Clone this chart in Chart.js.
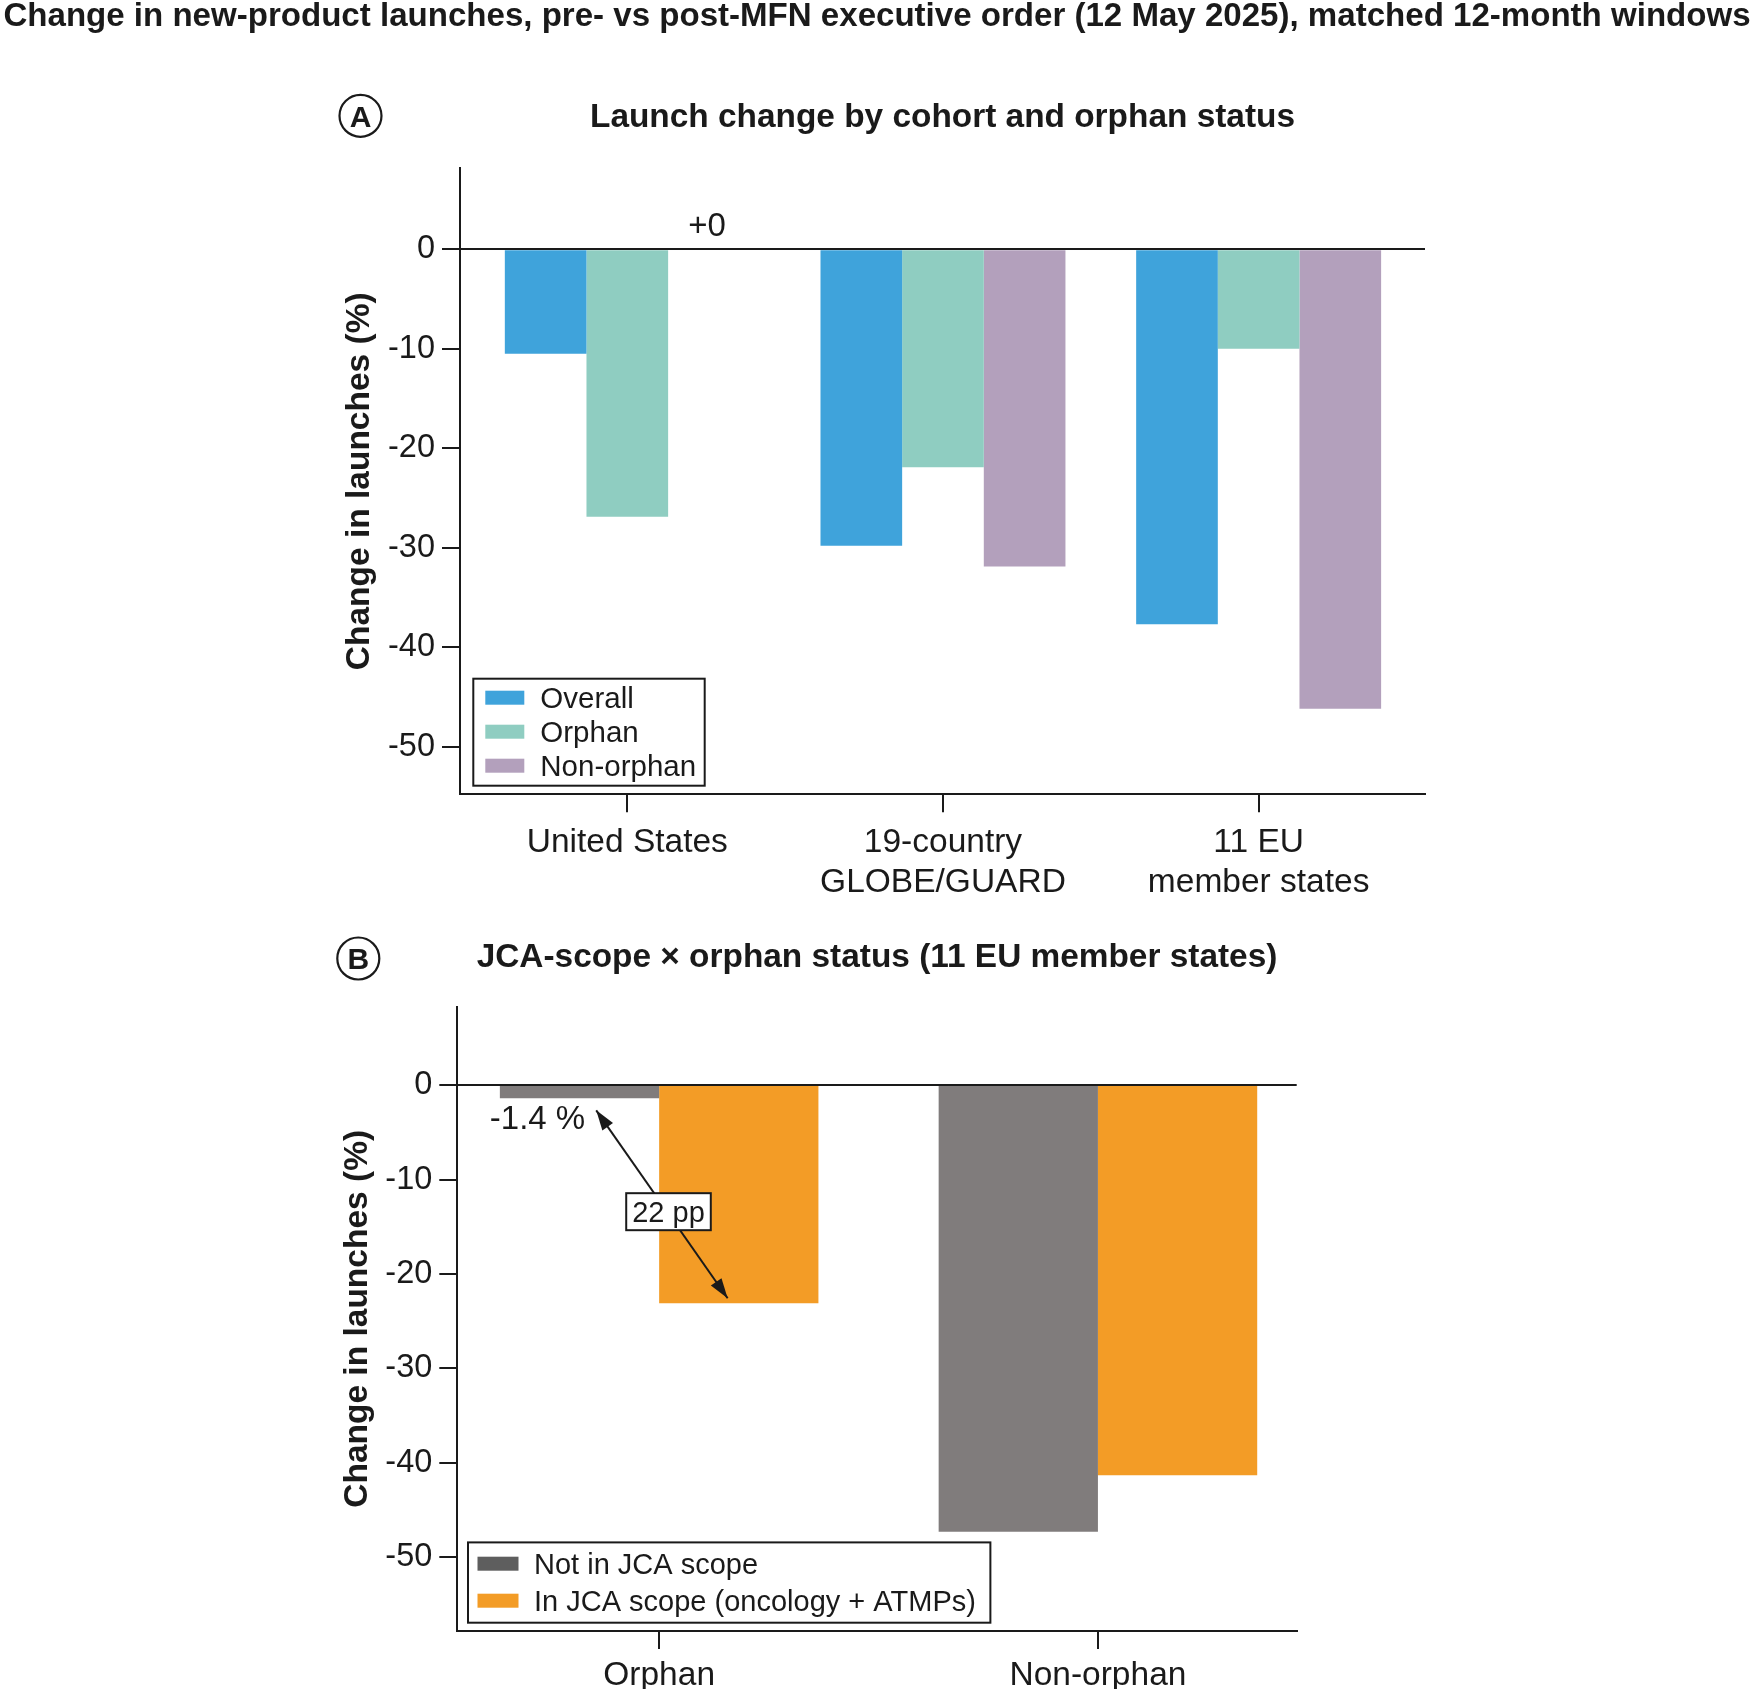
<!DOCTYPE html>
<html>
<head>
<meta charset="utf-8">
<script src="https://cdn.jsdelivr.net/npm/chart.js@4.4.1/dist/chart.umd.min.js"></script>
<style>
  body { margin: 0; background: #fff; width: 1754px; height: 1689px; position: relative; overflow: hidden; }
  .panel { position: absolute; left: 0; width: 1754px; }
  #panelA { top: 0; height: 900px; }
  #panelB { top: 900px; height: 789px; }
</style>
</head>
<body>
<div class="panel" id="panelA"><canvas id="chartA" width="1754" height="900"></canvas></div>
<div class="panel" id="panelB"><canvas id="chartB" width="1754" height="789"></canvas></div>
<script>
// ---- data: panel A (cohorts) ----
const cohortLabels = [['United States'], ['19-country', 'GLOBE/GUARD'], ['11 EU', 'member states']];
const overallChange = [-10.5, -29.8, -37.7];
const orphanChange = [-26.9, -21.9, -10.0];
const nonOrphanChange = [0, -31.9, -46.2];
const yTicksA = [0, -10, -20, -30, -40, -50];

// ---- data: panel B (JCA scope x orphan status, 11 EU) ----
const statusLabels = [['Orphan'], ['Non-orphan']];
const notInScopeChange = [-1.4, -47.3];
const inScopeChange = [-23.1, -41.3];
const yTicksB = [0, -10, -20, -30, -40, -50];

const mainTitle = 'Change in new-product launches, pre- vs post-MFN executive order (12 May 2025), matched 12-month windows';
const yTitle = 'Change in launches (%)';

const ink = '#1a1a1a';
const fam = '"Liberation Sans", Arial, Helvetica, sans-serif';
Chart.defaults.font.family = fam;
Chart.defaults.color = ink;

// circled panel letter, panel title, optional figure title
const panelDecor = {
  id: 'panelDecor',
  afterDraw(chart, args, o) {
    const {ctx, chartArea} = chart;
    ctx.save();
    ctx.fillStyle = ink;
    ctx.strokeStyle = ink;
    ctx.textAlign = 'center';
    ctx.textBaseline = 'alphabetic';
    if (o.mainTitle) {
      ctx.font = `bold 32px ${fam}`;
      const size = 32 * o.mainWidth / ctx.measureText(o.mainTitle).width;
      ctx.font = `bold ${size}px ${fam}`;
      ctx.fillText(o.mainTitle, chart.width / 2, o.mainBaseline);
    }
    const cx = chartArea.left - o.letterDx;
    const cy = chartArea.top - o.letterDy;
    ctx.lineWidth = 2.2;
    ctx.beginPath();
    ctx.arc(cx, cy, 21, 0, Math.PI * 2);
    ctx.stroke();
    ctx.font = `bold 30px ${fam}`;
    ctx.fillText(o.letter, cx, cy + 30 * 0.716 / 2);
    ctx.font = `bold ${o.titleSize}px ${fam}`;
    ctx.fillText(o.title, (chartArea.left + chartArea.right) / 2, chartArea.top - o.titleDy);
    ctx.restore();
  }
};

// boxed legend in the lower-left corner of the plot area
const boxLegend = {
  id: 'boxLegend',
  afterDatasetsDraw(chart, args, o) {
    const {ctx, chartArea} = chart;
    const sets = chart.data.datasets;
    ctx.save();
    ctx.font = `${o.fontSize}px ${fam}`;
    const textW = Math.max(...sets.map(d => ctx.measureText(d.label).width));
    const w = o.textX + textW + o.padRight;
    const h = o.padTop + o.rowH * (sets.length - 1) + o.padBottom;
    const x0 = chartArea.left + o.insetX;
    const y0 = chartArea.bottom - o.insetY - h;
    ctx.fillStyle = '#fff';
    ctx.fillRect(x0, y0, w, h);
    ctx.lineWidth = 2;
    ctx.strokeStyle = ink;
    ctx.strokeRect(x0, y0, w, h);
    ctx.textAlign = 'left';
    ctx.textBaseline = 'alphabetic';
    sets.forEach((d, i) => {
      const cy = y0 + o.padTop + i * o.rowH;
      ctx.fillStyle = d.swatchColor || d.backgroundColor;
      ctx.fillRect(x0 + o.swatchX, cy - o.swatchH / 2, o.swatchW, o.swatchH);
      ctx.fillStyle = ink;
      ctx.fillText(d.label, x0 + o.textX, cy + o.fontSize * 0.716 / 2);
    });
    ctx.restore();
  }
};

function arrowHead(ctx, tip, from, len, half) {
  const a = Math.atan2(tip.y - from.y, tip.x - from.x);
  const bx = tip.x - len * Math.cos(a), by = tip.y - len * Math.sin(a);
  ctx.beginPath();
  ctx.moveTo(tip.x, tip.y);
  ctx.lineTo(bx + half * Math.sin(a), by - half * Math.cos(a));
  ctx.lineTo(bx - half * Math.sin(a), by + half * Math.cos(a));
  ctx.closePath();
  ctx.fill();
}

// "+0" labels and the percentage-point gap arrow
const barNotes = {
  id: 'barNotes',
  afterDatasetsDraw(chart, args, o) {
    const {ctx} = chart;
    ctx.save();
    ctx.fillStyle = ink;
    ctx.strokeStyle = ink;
    ctx.textAlign = 'center';
    ctx.textBaseline = 'alphabetic';
    ctx.font = `${o.fontSize}px ${fam}`;
    if (o.zeroLabels) {
      chart.data.datasets.forEach((d, di) => {
        const meta = chart.getDatasetMeta(di);
        d.data.forEach((p, i) => {
          if (p.y === 0) ctx.fillText('+0', meta.data[i].x - 2, meta.data[i].base - 13);
        });
      });
    }
    if (o.gap) {
      const g = o.gap;
      const a = chart.getDatasetMeta(g.from[0]).data[g.from[1]];
      const b = chart.getDatasetMeta(g.to[0]).data[g.to[1]];
      const va = chart.data.datasets[g.from[0]].data[g.from[1]].y;
      const vb = chart.data.datasets[g.to[0]].data[g.to[1]].y;
      ctx.fillText(va.toFixed(1) + ' %', a.x - 42, a.y + 31);

      const p1 = {x: a.x + 0.105 * a.width, y: a.y + 12};
      const p2 = {x: b.x - 0.07 * b.width, y: b.y - 5};
      ctx.lineWidth = 2;
      ctx.beginPath();
      ctx.moveTo(p1.x, p1.y);
      ctx.lineTo(p2.x, p2.y);
      ctx.stroke();
      arrowHead(ctx, p1, p2, 20, 6.5);
      arrowHead(ctx, p2, p1, 20, 6.5);

      const label = Math.round(Math.abs(vb - va)) + ' pp';
      ctx.font = `${o.boxFontSize}px ${fam}`;
      const tw = ctx.measureText(label).width;
      const cx = p1.x + 0.55 * (p2.x - p1.x);
      const cy = p1.y + 0.55 * (p2.y - p1.y) - 2;
      const bw = tw + 12, bh = 37;
      ctx.fillStyle = '#fff';
      ctx.fillRect(cx - bw / 2, cy - bh / 2, bw, bh);
      ctx.strokeRect(cx - bw / 2, cy - bh / 2, bw, bh);
      ctx.fillStyle = ink;
      ctx.fillText(label, cx, cy + o.boxFontSize * 0.716 / 2);
    }
    ctx.restore();
  }
};

function toPoints(values) {
  return values.map((v, i) => ({x: i, y: v}));
}

function axes(cfg) {
  return {
    x: {
      type: 'linear',
      min: cfg.xMin,
      max: cfg.xMax,
      offset: false,
      afterBuildTicks: s => { s.ticks = cfg.labels.map((l, i) => ({value: i})); },
      afterFit: s => { s.height = cfg.xHeight; },
      ticks: {
        callback: v => cfg.labels[v],
        font: {size: 33.5, lineHeight: 1.2},
        color: ink,
        padding: cfg.xPad,
        maxRotation: 0,
        autoSkip: false
      },
      grid: {offset: false, drawOnChartArea: false, tickLength: 18, tickColor: ink, lineWidth: 2, color: ink},
      border: {display: true, color: ink, width: 2}
    },
    y: {
      min: cfg.yMin,
      max: cfg.yMax,
      afterBuildTicks: s => { s.ticks = cfg.yTicks.map(v => ({value: v})); },
      afterFit: s => { s.width = cfg.yWidth; },
      ticks: {font: {size: 32.5}, color: ink, padding: 7},
      grid: {
        color: c => (c.tick && c.tick.value === 0 ? ink : 'rgba(0,0,0,0)'),
        tickColor: ink,
        tickLength: 18,
        lineWidth: 2
      },
      border: {display: true, color: ink, width: 2},
      title: {
        display: true,
        text: yTitle,
        font: {size: 33.5, weight: 'bold'},
        color: ink,
        padding: {top: cfg.yTitlePad, bottom: 0}
      }
    }
  };
}

// ---- Panel A ----
new Chart(document.getElementById('chartA'), {
  type: 'bar',
  data: {
    datasets: [
      {label: 'Overall', data: toPoints(overallChange), backgroundColor: '#3FA3DB'},
      {label: 'Orphan', data: toPoints(orphanChange), backgroundColor: '#8FCDC1'},
      {label: 'Non-orphan', data: toPoints(nonOrphanChange), backgroundColor: '#B3A0BC'}
    ]
  },
  options: {
    responsive: false,
    animation: false,
    categoryPercentage: 0.776,
    barPercentage: 1,
    layout: {padding: {top: 168.3, right: 329, left: 0, bottom: 0}},
    scales: axes({
      labels: cohortLabels, xMin: -0.53, xMax: 2.527, xHeight: 105.7, xPad: 10,
      yMin: -54.8, yMax: 8.15, yTicks: yTicksA, yWidth: 460, yTitlePad: 339.9
    }),
    plugins: {
      legend: {display: false},
      tooltip: {enabled: false},
      panelDecor: {
        mainTitle: mainTitle, mainWidth: 1748, mainBaseline: 26,
        letter: 'A', letterDx: 99.5, letterDy: 52.5,
        title: 'Launch change by cohort and orphan status', titleSize: 33.4, titleDy: 41.8
      },
      boxLegend: {
        fontSize: 29.5, insetX: 13.3, insetY: 8.6, padTop: 19, rowH: 34, padBottom: 20,
        swatchX: 12, swatchW: 39, swatchH: 14, textX: 67, padRight: 8.6
      },
      barNotes: {fontSize: 33, zeroLabels: true}
    }
  },
  plugins: [panelDecor, boxLegend, barNotes]
});

// ---- Panel B ----
new Chart(document.getElementById('chartB'), {
  type: 'bar',
  data: {
    datasets: [
      {label: 'Not in JCA scope', data: toPoints(notInScopeChange), backgroundColor: '#807C7C', swatchColor: '#5E5E5E'},
      {label: 'In JCA scope (oncology + ATMPs)', data: toPoints(inScopeChange), backgroundColor: '#F39C26'}
    ]
  },
  options: {
    responsive: false,
    animation: false,
    categoryPercentage: 0.726,
    barPercentage: 1,
    layout: {padding: {top: 106.7, right: 457.3, left: 0, bottom: 0}},
    scales: axes({
      labels: statusLabels, xMin: -0.46, xMax: 1.453, xHeight: 58, xPad: 6.5,
      yMin: -57.8, yMax: 8.3, yTicks: yTicksB, yWidth: 457.3, yTitlePad: 337.9
    }),
    plugins: {
      legend: {display: false},
      tooltip: {enabled: false},
      panelDecor: {
        letter: 'B', letterDx: 99, letterDy: 48.2,
        title: 'JCA-scope \u00d7 orphan status (11 EU member states)', titleSize: 33.4, titleDy: 39.5
      },
      boxLegend: {
        fontSize: 29, insetX: 10.7, insetY: 8.3, padTop: 21.3, rowH: 37, padBottom: 22,
        swatchX: 9.5, swatchW: 41, swatchH: 14, textX: 66, padRight: 14.5
      },
      barNotes: {fontSize: 33, boxFontSize: 29, gap: {from: [0, 0], to: [1, 0]}}
    }
  },
  plugins: [panelDecor, boxLegend, barNotes]
});
</script>
</body>
</html>
